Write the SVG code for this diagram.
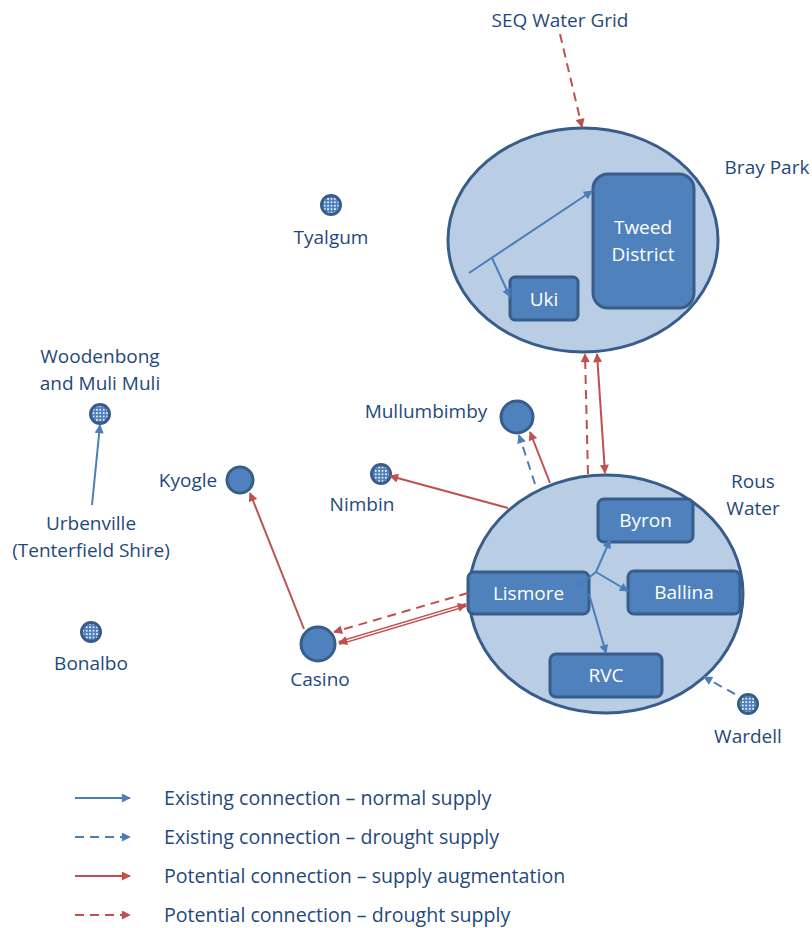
<svg xmlns="http://www.w3.org/2000/svg" width="812" height="928" viewBox="0 0 812 928">
<style>
text{font-family:"Open Sans","Liberation Sans",sans-serif;font-size:19px;fill:#1F497D;text-anchor:middle}
.w{fill:#fff}
.lg{text-anchor:start;font-size:19.6px}
.ell{fill:#B9CDE5;stroke:#385D8A;stroke-width:3}
.box{fill:#4F81BD;stroke:#385D8A;stroke-width:3}
.dot{fill:url(#dots);stroke:#385D8A;stroke-width:3}
.bl{stroke:#4A7EBB;stroke-width:2;fill:none}
.rd{stroke:#C0504D;stroke-width:2;fill:none}
.ds{stroke-dasharray:9 6}
</style>
<defs>
<pattern id="dots" width="3.4" height="3.4" patternUnits="userSpaceOnUse"><rect width="3.4" height="3.4" fill="#4F81BD"/><rect x="0.9" y="0.9" width="1.6" height="1.6" fill="#fff"/></pattern>
<marker id="ab" viewBox="0 0 10 10" refX="9" refY="5" markerWidth="11" markerHeight="9" orient="auto-start-reverse" markerUnits="userSpaceOnUse"><path d="M0,0L10,5L0,10z" fill="#4A7EBB"/></marker>
<marker id="ar" viewBox="0 0 10 10" refX="9" refY="5" markerWidth="11" markerHeight="9" orient="auto-start-reverse" markerUnits="userSpaceOnUse"><path d="M0,0L10,5L0,10z" fill="#C0504D"/></marker>
</defs>

<g id="bray-park">
<ellipse class="ell" cx="583" cy="240" rx="135" ry="112"/>
<text x="767" y="174">Bray Park</text>
</g>
<g id="tweed"><rect class="box" x="593" y="174" width="101" height="134" rx="15"/><text class="w" x="643" y="234">Tweed</text><text class="w" x="643" y="261">District</text></g>
<g id="uki"><rect class="box" x="510" y="277" width="68" height="43" rx="5"/><text class="w" x="544" y="306">Uki</text></g>

<g id="rous-water">
<ellipse class="ell" cx="606" cy="594" rx="137" ry="119"/>
<text x="753" y="488">Rous</text><text x="753" y="515">Water</text>
</g>
<g id="byron"><rect class="box" x="598" y="499" width="95" height="43" rx="6"/><text class="w" x="645.5" y="527">Byron</text></g>
<g id="lismore"><rect class="box" x="468" y="572" width="121" height="42" rx="6"/><text class="w" x="528.5" y="600">Lismore</text></g>
<g id="ballina"><rect class="box" x="628" y="571" width="112" height="43" rx="6"/><text class="w" x="684" y="599">Ballina</text></g>
<g id="rvc"><rect class="box" x="550" y="654" width="112" height="43" rx="6"/><text class="w" x="606" y="682">RVC</text></g>

<g id="seq"><text x="560" y="27">SEQ Water Grid</text></g>
<g id="tyalgum"><circle class="dot" cx="331" cy="205" r="9.5"/><text x="331" y="244">Tyalgum</text></g>
<g id="woodenbong"><text x="100" y="363">Woodenbong</text><text x="100" y="390">and Muli Muli</text><circle class="dot" cx="100" cy="414" r="9.5"/></g>
<g id="urbenville"><text x="91" y="530">Urbenville</text><text x="91" y="557">(Tenterfield Shire)</text></g>
<g id="bonalbo"><circle class="dot" cx="91" cy="632" r="9.5"/><text x="91" y="670">Bonalbo</text></g>
<g id="kyogle"><circle class="box" cx="240" cy="480" r="13"/><text x="188" y="487">Kyogle</text></g>
<g id="nimbin"><circle class="dot" cx="381" cy="474" r="9.5"/><text x="362" y="511">Nimbin</text></g>
<g id="mullumbimby"><circle class="box" cx="517" cy="417" r="16"/><text x="426" y="418">Mullumbimby</text></g>
<g id="casino"><circle class="box" cx="318" cy="644" r="17"/><text x="320" y="686">Casino</text></g>
<g id="wardell"><circle class="dot" cx="748" cy="704" r="9.5"/><text x="748" y="743">Wardell</text></g>

<g id="connectors">
<line class="rd ds" x1="560" y1="34" x2="582" y2="127" marker-end="url(#ar)"/>
<line class="bl" x1="469" y1="273" x2="592" y2="191" marker-end="url(#ab)"/>
<line class="bl" x1="492" y1="258" x2="510" y2="297" marker-end="url(#ab)"/>
<line class="rd ds" x1="588" y1="474" x2="585" y2="354" marker-end="url(#ar)"/>
<line class="rd" x1="597" y1="354" x2="605" y2="473" marker-start="url(#ar)" marker-end="url(#ar)"/>
<line class="rd" x1="550" y1="483" x2="530" y2="432" marker-end="url(#ar)"/>
<line class="bl ds" x1="535" y1="484" x2="519" y2="435" marker-end="url(#ab)"/>
<line class="rd" x1="508" y1="508" x2="390" y2="476" marker-end="url(#ar)"/>
<line class="rd" x1="304" y1="629" x2="250" y2="493" marker-end="url(#ar)"/>
<line class="rd ds" x1="468" y1="593" x2="334" y2="632" marker-end="url(#ar)"/>
<line stroke="#C0504D" stroke-width="4" x1="339" y1="643" x2="466" y2="605" marker-start="url(#ar)" marker-end="url(#ar)"/>
<line stroke="#fff" stroke-width="1.2" x1="347" y1="640.6" x2="458" y2="607.4"/>
<path class="bl" d="M576,588L596,572"/>
<line class="bl" x1="596" y1="572" x2="610" y2="540" marker-end="url(#ab)"/>
<line class="bl" x1="596" y1="572" x2="628" y2="591" marker-end="url(#ab)"/>
<line class="bl" x1="589" y1="594" x2="606" y2="653" marker-end="url(#ab)"/>
<line class="bl ds" x1="735" y1="694" x2="704" y2="677" marker-end="url(#ab)"/>
<line class="bl" x1="92" y1="505" x2="100" y2="425" marker-end="url(#ab)"/>
</g>

<g id="legend">
<line class="bl" x1="75" y1="798" x2="130" y2="798" marker-end="url(#ab)"/>
<line class="bl ds" x1="75" y1="837" x2="130" y2="837" marker-end="url(#ab)"/>
<line class="rd" x1="75" y1="876" x2="130" y2="876" marker-end="url(#ar)"/>
<line class="rd ds" x1="75" y1="915" x2="130" y2="915" marker-end="url(#ar)"/>
<text class="lg" x="164" y="805">Existing connection – normal supply</text>
<text class="lg" x="164" y="844">Existing connection – drought supply</text>
<text class="lg" x="164" y="883">Potential connection – supply augmentation</text>
<text class="lg" x="164" y="922">Potential connection – drought supply</text>
</g>
</svg>
